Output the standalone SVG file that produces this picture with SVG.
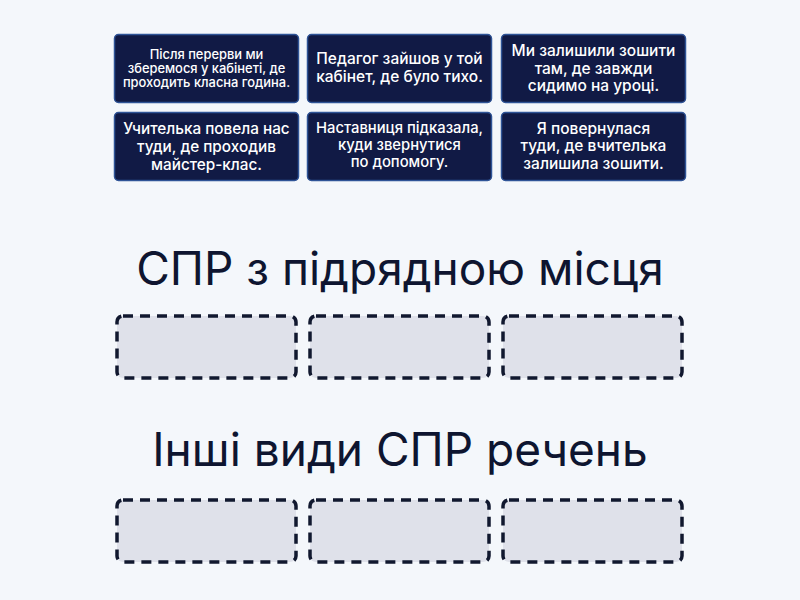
<svg xmlns="http://www.w3.org/2000/svg" width="800" height="600" viewBox="0 0 800 600">
<style>
.bg{fill:#f4f7fb}
.card{fill:#111a45;stroke:#2f5497;stroke-width:1.5}
.ct{fill:#ffffff;font-family:Inter,"Noto Sans",sans-serif;font-weight:500;text-anchor:middle}
.s13{font-size:12.9px}
.s14{font-size:14.8px}
.s15{font-size:15.5px}
.s16{font-size:15.3px}
.slot{fill:#dfe1ea;stroke:#11182f;stroke-width:3.5;stroke-dasharray:10 7}
.title{fill:#0e1530;font-family:Inter,"Noto Sans",sans-serif;font-size:46px;text-anchor:middle}
</style>
<rect class="bg" x="0" y="0" width="800" height="600"/>
<g id="card1"><rect class="card" x="114.5" y="34.5" width="184" height="68" rx="4"/>
<text class="ct s13"><tspan x="206.5" y="59">Після перерви ми</tspan><tspan x="206.5" y="73">зберемося у кабінеті, де</tspan><tspan x="206.5" y="87">проходить класна година.</tspan></text></g>
<g id="card2"><rect class="card" x="307.5" y="34.5" width="184" height="68" rx="4"/>
<text class="ct s15"><tspan x="399.5" y="64">Педагог зайшов у той</tspan><tspan x="399.5" y="81.5">кабінет, де було тихо.</tspan></text></g>
<g id="card3"><rect class="card" x="501.5" y="34.5" width="184" height="68" rx="4"/>
<text class="ct s15"><tspan x="593.5" y="56">Ми залишили зошити</tspan><tspan x="593.5" y="73.5">там, де завжди</tspan><tspan x="593.5" y="91">сидимо на уроці.</tspan></text></g>
<g id="card4"><rect class="card" x="114.5" y="112.5" width="184" height="68" rx="4"/>
<text class="ct s16"><tspan x="206.5" y="134">Учителька повела нас</tspan><tspan x="206.5" y="152">туди, де проходив</tspan><tspan x="206.5" y="170">майстер-клас.</tspan></text></g>
<g id="card5"><rect class="card" x="307.5" y="112.5" width="184" height="68" rx="4"/>
<text class="ct s14"><tspan x="399.5" y="133">Наставниця підказала,</tspan><tspan x="399.5" y="150">куди звернутися</tspan><tspan x="399.5" y="167">по допомогу.</tspan></text></g>
<g id="card6"><rect class="card" x="501.5" y="112.5" width="184" height="68" rx="4"/>
<text class="ct s15"><tspan x="593.5" y="133.5">Я повернулася</tspan><tspan x="593.5" y="151">туди, де вчителька</tspan><tspan x="593.5" y="168.5">залишила зошити.</tspan></text></g>
<g id="group1">
<text class="title" x="400" y="285">СПР з підрядною місця</text>
<rect class="slot" x="117" y="316" width="179" height="62" rx="6"/>
<rect class="slot" x="310" y="316" width="179" height="62" rx="6"/>
<rect class="slot" x="503" y="316" width="179" height="62" rx="6"/>
</g>
<g id="group2">
<text class="title" x="400" y="466">Інші види СПР речень</text>
<rect class="slot" x="117" y="500" width="179" height="62" rx="6"/>
<rect class="slot" x="310" y="500" width="179" height="62" rx="6"/>
<rect class="slot" x="503" y="500" width="179" height="62" rx="6"/>
</g>
<g id="connectors"></g>
</svg>
